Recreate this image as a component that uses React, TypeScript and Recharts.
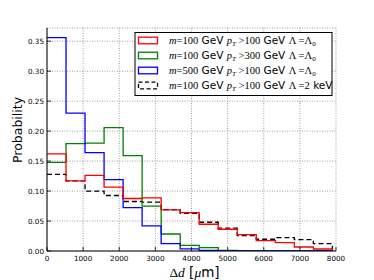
import React from "react";
import { LineChart, Line, XAxis, YAxis, CartesianGrid } from "recharts";

// bin edges of the histograms (15 bins)
const edges = [0, 527, 1053, 1580, 2107, 2633, 3160, 3687, 4213, 4740, 5267, 5793, 6320, 6847, 7373, 7900];

// probability per bin
const redVals = [0.162, 0.117, 0.126, 0.1065, 0.0876, 0.0887, 0.0686, 0.064, 0.0446, 0.0363, 0.0274, 0.0174, 0.014, 0.0067, 0.0033];
const greenVals = [0.148, 0.179, 0.18, 0.2057, 0.159, 0.075, 0.0284, 0.0095, 0.0057, 0.0012, 0.0005, 0.0002, 0, 0, 0];
const blueVals = [0.356, 0.23, 0.164, 0.119, 0.0725, 0.042, 0.0123, 0.0035, 0.0008, 0.0003, 0, 0, 0, 0, 0];
const dashVals = [0.1278, 0.117, 0.0998, 0.0926, 0.0826, 0.0814, 0.069, 0.063, 0.048, 0.038, 0.0257, 0.0196, 0.0224, 0.019, 0.0124];

const xTicks = [0, 1000, 2000, 3000, 4000, 5000, 6000, 7000, 8000];
const yTicks = [0, 0.05, 0.1, 0.15, 0.2, 0.25, 0.3, 0.35];

// legend text pieces
const legendMass = ["100", "100", "500", "100"];
const legendPt = ["100", "300", "100", "100"];
const legendLambda = ["A0", "A0", "A0", "2keV"];
const legendColors = ["#ff0000", "#008000", "#0000ff", "#000000"];

// last edge closes the step outline back to zero
const data = edges.map((x, i) => ({
  x,
  red: i < redVals.length ? redVals[i] : 0,
  green: i < greenVals.length ? greenVals[i] : 0,
  blue: i < blueVals.length ? blueVals[i] : 0,
  dash: i < dashVals.length ? dashVals[i] : 0,
}));

const SANS = "DejaVu Sans";
const SERIF = "Liberation Serif";
const TICK_FONT = 7.2;

const BottomTick = (props: any) => {
  const { x, y, payload } = props;
  return (
    <g>
      <line x1={x} x2={x} y1={y} y2={y - 4} stroke="#000" strokeWidth={0.8} />
      <text x={x} y={y + 9.5} textAnchor="middle" fontSize={TICK_FONT} fontFamily={SANS} fill="#000">
        {payload.value}
      </text>
    </g>
  );
};

const LeftTick = (props: any) => {
  const { x, y, payload } = props;
  return (
    <g>
      <line x1={x} x2={x + 4} y1={y} y2={y} stroke="#000" strokeWidth={0.8} />
      <text x={x - 3} y={y + 2.6} textAnchor="end" fontSize={TICK_FONT} fontFamily={SANS} fill="#000">
        {Number(payload.value).toFixed(2)}
      </text>
    </g>
  );
};

const TopTick = (props: any) => {
  const { x, y } = props;
  return <line x1={x} x2={x} y1={y} y2={y + 4} stroke="#000" strokeWidth={0.8} />;
};

const RightTick = (props: any) => {
  const { x, y } = props;
  return <line x1={x} x2={x - 4} y1={y} y2={y} stroke="#000" strokeWidth={0.8} />;
};

const XLabel = (props: any) => {
  const vb = props.viewBox || { x: 47, y: 251, width: 289 };
  return (
    <text x={vb.x + vb.width / 2 + 3} y={vb.y + 26} textAnchor="middle" fontSize={13.5} fill="#000" style={{ whiteSpace: "pre" }}>
      <tspan fontFamily={SERIF}>Δ</tspan>
      <tspan fontFamily={SERIF} fontStyle="italic">d</tspan>
      <tspan fontFamily={SANS}> [</tspan>
      <tspan fontFamily={SERIF} fontStyle="italic">μ</tspan>
      <tspan fontFamily={SANS}>m]</tspan>
    </text>
  );
};

const YLabel = () => (
  <text x={21.5} y={130} transform="rotate(-90 21.5 130)" textAnchor="middle" fontSize={12.5} fontFamily={SANS} fill="#000">
    Probability
  </text>
);

const LegendText = ({ i, y }: { i: number; y: number }) => {
  const lam = legendLambda[i];
  return (
    <text x={169} y={y} fontSize={10.5} fill="#000" style={{ whiteSpace: "pre" }}>
      <tspan fontFamily={SERIF} fontStyle="italic">m</tspan>
      <tspan fontFamily={SERIF}>{"=" + legendMass[i]}</tspan>
      <tspan fontFamily={SANS}>{" GeV "}</tspan>
      <tspan fontFamily={SERIF} fontStyle="italic">p</tspan>
      <tspan fontFamily={SERIF} fontStyle="italic" fontSize={7} dy={2}>T</tspan>
      <tspan fontFamily={SERIF} dy={-2}>{" >" + legendPt[i]}</tspan>
      <tspan fontFamily={SANS}>{" GeV "}</tspan>
      <tspan fontFamily={SERIF}>{"Λ =" + (lam === "A0" ? "Λ" : "2")}</tspan>
      {lam === "A0" ? (
        <tspan fontFamily={SERIF} fontSize={7} dy={2}>0</tspan>
      ) : (
        <tspan fontFamily={SANS}>{" keV"}</tspan>
      )}
    </text>
  );
};

const ChartLegend = () => (
  <svg width={374} height={280} style={{ position: "absolute", left: 0, top: 0, pointerEvents: "none" }}>
    <rect x={135} y={32.5} width={197} height={63} fill="#fff" stroke="#000" strokeWidth={1} />
    {legendColors.map((c, i) => {
      const cy = 40.5 + i * 15;
      return (
        <g key={i}>
          <rect
            x={138.5}
            y={cy - 3.3}
            width={19}
            height={6.6}
            fill="#fff"
            stroke={c}
            strokeWidth={1.3}
            strokeDasharray={i === 3 ? "4 2.5" : undefined}
          />
          <LegendText i={i} y={cy + 3.5} />
        </g>
      );
    })}
  </svg>
);

export default function App() {
  return (
    <div style={{ position: "absolute", left: 0, top: 0, width: 374, height: 280, background: "#fff" }}>
      <LineChart width={374} height={280} data={data} margin={{ top: 28, right: 38, bottom: 0, left: 0 }}>
        <CartesianGrid stroke="#777" strokeWidth={0.7} strokeDasharray="1 1.5" />
        <XAxis
          dataKey="x"
          type="number"
          domain={[0, 8000]}
          ticks={xTicks}
          interval={0}
          allowDataOverflow
          height={29}
          tickSize={0}
          tickMargin={0}
          tick={<BottomTick />}
          axisLine={{ stroke: "#000", strokeWidth: 1 }}
          label={<XLabel />}
        />
        <XAxis
          xAxisId="top"
          orientation="top"
          type="number"
          domain={[0, 8000]}
          ticks={xTicks}
          interval={0}
          height={0}
          tickSize={0}
          tickMargin={0}
          tick={<TopTick />}
          axisLine={{ stroke: "#000", strokeWidth: 1 }}
        />
        <YAxis
          type="number"
          domain={[0, 0.372]}
          ticks={yTicks}
          interval={0}
          allowDataOverflow
          width={47}
          tickSize={0}
          tickMargin={0}
          tick={<LeftTick />}
          axisLine={{ stroke: "#000", strokeWidth: 1 }}
          label={<YLabel />}
        />
        <YAxis
          yAxisId="right"
          orientation="right"
          type="number"
          domain={[0, 0.372]}
          ticks={yTicks}
          interval={0}
          width={0}
          tickSize={0}
          tickMargin={0}
          tick={<RightTick />}
          axisLine={{ stroke: "#000", strokeWidth: 1 }}
        />
        <Line type="stepAfter" dataKey="dash" stroke="#000" strokeWidth={1.3} strokeDasharray="5 3" dot={false} isAnimationActive={false} />
        <Line type="stepAfter" dataKey="green" stroke="#008000" strokeWidth={1.3} dot={false} isAnimationActive={false} />
        <Line type="stepAfter" dataKey="blue" stroke="#0000ff" strokeWidth={1.3} dot={false} isAnimationActive={false} />
        <Line type="stepAfter" dataKey="red" stroke="#ff0000" strokeWidth={1.3} dot={false} isAnimationActive={false} />
      </LineChart>
      <ChartLegend />
    </div>
  );
}
